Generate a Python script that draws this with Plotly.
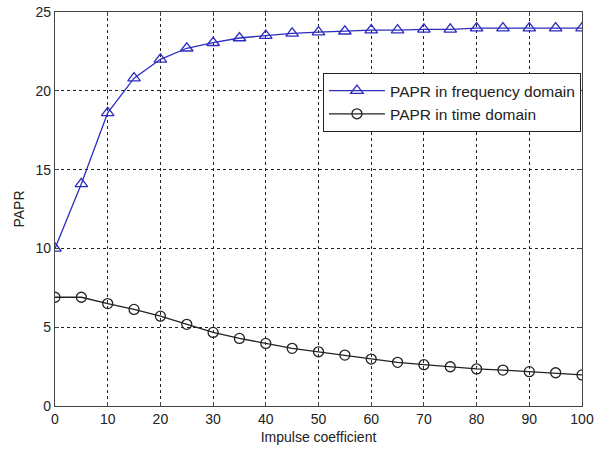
import plotly.graph_objects as go

x_vals = [0, 5, 10, 15, 20, 25, 30, 35, 40, 45, 50, 55, 60, 65, 70, 75, 80, 85, 90, 95, 100]
papr_freq = [10.0, 14.1, 18.6, 20.8, 22.0, 22.7, 23.05, 23.35, 23.5, 23.65, 23.72, 23.78, 23.85, 23.85, 23.9, 23.9, 23.98, 23.98, 23.98, 23.98, 23.98]
papr_time = [6.9, 6.9, 6.5, 6.13, 5.7, 5.18, 4.67, 4.29, 3.97, 3.66, 3.44, 3.23, 2.98, 2.77, 2.62, 2.49, 2.35, 2.28, 2.18, 2.11, 1.97]
x_ticks = [0, 10, 20, 30, 40, 50, 60, 70, 80, 90, 100]
y_ticks = [0, 5, 10, 15, 20, 25]

blue = "#2c2cc0"
fig = go.Figure()
fig.add_trace(go.Scatter(
    x=x_vals, y=papr_freq, mode="lines+markers", name="PAPR in frequency domain",
    line=dict(color=blue, width=1.3),
    marker=dict(symbol="triangle-up-open", size=11, color=blue, line=dict(width=1.3, color=blue)),
))
fig.add_trace(go.Scatter(
    x=x_vals, y=papr_time, mode="lines+markers", name="PAPR in time domain",
    line=dict(color="#222222", width=1.3),
    marker=dict(symbol="circle-open", size=10, color="#222222", line=dict(width=1.3, color="#222222")),
))

axis_common = dict(
    showline=True, linecolor="#444444", linewidth=1.2, mirror="ticks",
    ticks="inside", ticklen=4, tickcolor="#444444",
    showgrid=True, gridcolor="#222222", griddash="dot", gridwidth=1,
    zeroline=False, automargin=False, ticklabeloverflow="allow",
    tickfont=dict(family="Arial, Liberation Sans, sans-serif", size=14, color="#222222"),
    title_font=dict(family="Arial, Liberation Sans, sans-serif", size=14, color="#222222"),
)
fig.update_xaxes(range=[0, 100], tickvals=x_ticks, title_text="Impulse coefficient", title_standoff=6, **axis_common)
fig.update_yaxes(range=[0, 25], tickvals=y_ticks, title_text="PAPR", title_standoff=7, **axis_common)

fig.update_layout(
    width=600, height=452,
    margin=dict(l=55, r=18, t=12, b=46),
    paper_bgcolor="white", plot_bgcolor="white",
    showlegend=True,
    legend=dict(
        x=0.998, y=0.845, xanchor="right", yanchor="top",
        bgcolor="white", bordercolor="#222222", borderwidth=1,
        font=dict(family="Arial, Liberation Sans, sans-serif", size=15.5, color="#222222"),
        tracegroupgap=0, itemwidth=56,
    ),
)
fig.write_html("out.html", config={"displayModeBar": False},
               post_script="document.body.style.margin='0';")
